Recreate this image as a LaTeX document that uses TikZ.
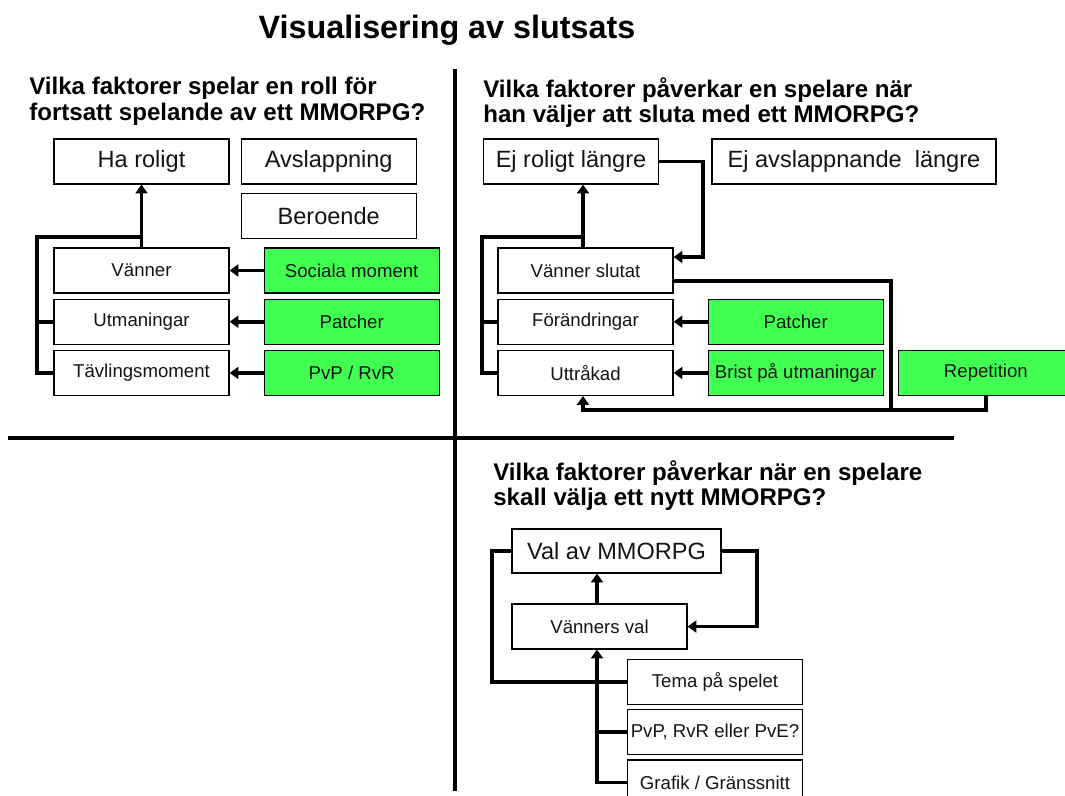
\documentclass[tikz,border=0pt]{standalone}
\usepackage{fontspec}
\setmainfont{Liberation Sans}
\usetikzlibrary{arrows.meta, positioning, calc}
\definecolor{boxgreen}{RGB}{64, 255, 80}
\definecolor{inktext}{RGB}{20, 20, 20}
\tikzset{
    box/.style={
        rectangle, draw=black, fill=white, line width=0.7pt,
        minimum width=3.5cm, minimum height=0.9cm, inner sep=0pt,
        font=\fontsize{10.6}{12}\selectfont, text=inktext
    },
    bigbox/.style={box, font=\fontsize{13.4}{15}\selectfont},
    greenbox/.style={box, fill=boxgreen},
    arrow/.style={-{Triangle[length=5pt, width=6.8pt]}, line width=2.2pt},
    link/.style={line width=2.2pt},
    question/.style={
        anchor=north west, inner sep=0pt, align=left,
        font=\fontsize{13.7}{14.7}\selectfont\bfseries
    },
    divider/.style={line width=2.6pt}
}

\begin{document}
\begin{tikzpicture}[x=0.02cm, y=-0.02cm]
    \useasboundingbox (0,0) rectangle (1065,795);

    % Title and quadrant lines
    \node[font=\fontsize{18.4}{22}\selectfont\bfseries, anchor=base] (title) at (447,38) {Visualisering av slutsats};
    \draw[divider] (455,69) -- (455,791);
    \draw[divider] (8,438) -- (954,438);

    % Questions
    \node[question] (q-stay) at (29,77) {Vilka faktorer spelar en roll för\\fortsatt spelande av ett MMORPG?};
    \node[question] (q-quit) at (483,77) {Vilka faktorer påverkar en spelare när\\han väljer att sluta med ett MMORPG?};
    \node[question] (q-new) at (493,460) {Vilka faktorer påverkar när en spelare\\skall välja ett nytt MMORPG?};

    % Continued playing
    \node[bigbox] (roligt) at (141.5,161.5) {Ha roligt};
    \node[bigbox, right=0.22cm of roligt] (avslapp) {Avslappning};
    \node[bigbox, below=0.16cm of avslapp] (beroende) {Beroende};
    \node[box] (vanner) at (141.5,270.5) {Vänner};
    \node[box, below=0.1cm of vanner] (utman) {Utmaningar};
    \node[box, below=0.1cm of utman] (tavling) {Tävlingsmoment};
    \node[greenbox, right=0.68cm of vanner] (social) {Sociala moment};
    \node[greenbox, right=0.68cm of utman] (patch1) {Patcher};
    \node[greenbox, right=0.68cm of tavling] (pvp) {PvP / RvR};

    \draw[arrow] (social) -- (vanner);
    \draw[arrow] (patch1) -- (utman);
    \draw[arrow] (pvp) -- (tavling);
    \coordinate (tl-knee) at ($(vanner.north)+(0,-10)$);
    \draw[arrow] (vanner.north) -- (roligt.south);
    \draw[link] (tavling.west) -- ++(-16,0) |- (tl-knee);
    \draw[link] (utman.west) -- ++(-16,0);

    % Quitting
    \node[bigbox] (ejrolig) at (571,161.5) {Ej roligt längre};
    \node[bigbox, minimum width=5.68cm] (ejavslapp) at (854,161.5) {Ej avslappnande\ \ längre};
    \node[box] (vslutat) at (585.5,270.5) {Vänner slutat};
    \node[box, below=0.1cm of vslutat] (forandr) {Förändringar};
    \node[box, below=0.1cm of forandr] (uttrak) {Uttråkad};
    \node[greenbox, right=0.68cm of forandr] (patch2) {Patcher};
    \node[greenbox, right=0.68cm of uttrak] (brist) {Brist på utmaningar};
    \node[greenbox, right=0.28cm of brist] (repet) {Repetition};

    \draw[arrow] (patch2) -- (forandr);
    \draw[arrow] (brist) -- (uttrak);
    \coordinate (tr-knee) at ($(vslutat.north)+(-2.5,-10)$);
    \draw[arrow] ($(vslutat.north)+(-2.5,0)$) -- (tr-knee |- ejrolig.south);
    \draw[link] (uttrak.west) -- ++(-15,0) |- (tr-knee);
    \draw[link] (forandr.west) -- ++(-15,0);
    \draw[arrow] (ejrolig.east) -- ++(44,0) |- ($(vslutat.east)+(0,-13.5)$);
    \coordinate (tr-bottom) at ($(uttrak.south)+(-2.5,14)$);
    \coordinate (tr-gap) at ($(brist.east)!0.5!(repet.west)$);
    \draw[arrow] ($(vslutat.east)+(0,10.5)$) -| (tr-gap |- tr-bottom) -- (tr-bottom) -- (tr-bottom |- uttrak.south);
    \draw[link] (repet.south) |- (tr-gap |- tr-bottom);

    % Choosing a new game
    \node[bigbox, minimum width=4.18cm, minimum height=0.88cm] (valmmo) at (616.5,551) {Val av MMORPG};
    \node[box] (vval) at (599.5,626.5) {Vänners val};
    \node[box] (tema) at (715,682) {Tema på spelet};
    \node[box, below=0.08cm of tema] (pvpval) {PvP, RvR eller PvE?};
    \node[box, below=0.08cm of pvpval] (grafik) {Grafik / Gränssnitt};

    \coordinate (br-trunk) at ($(vval.south)+(-2.5,0)$);
    \draw[arrow] ($(vval.north)+(-2.5,0)$) -- ($(vval.north |- valmmo.south)+(-2.5,0)$);
    \draw[arrow] (valmmo.east) -- ++(35,0) |- (vval.east);
    \draw[link] (valmmo.west) -- ++(-19,0) |- (tema.west);
    \draw[arrow] (grafik.west) -| (br-trunk);
    \draw[link] (pvpval.west) -- (pvpval.west -| br-trunk);

\end{tikzpicture}
\end{document}
